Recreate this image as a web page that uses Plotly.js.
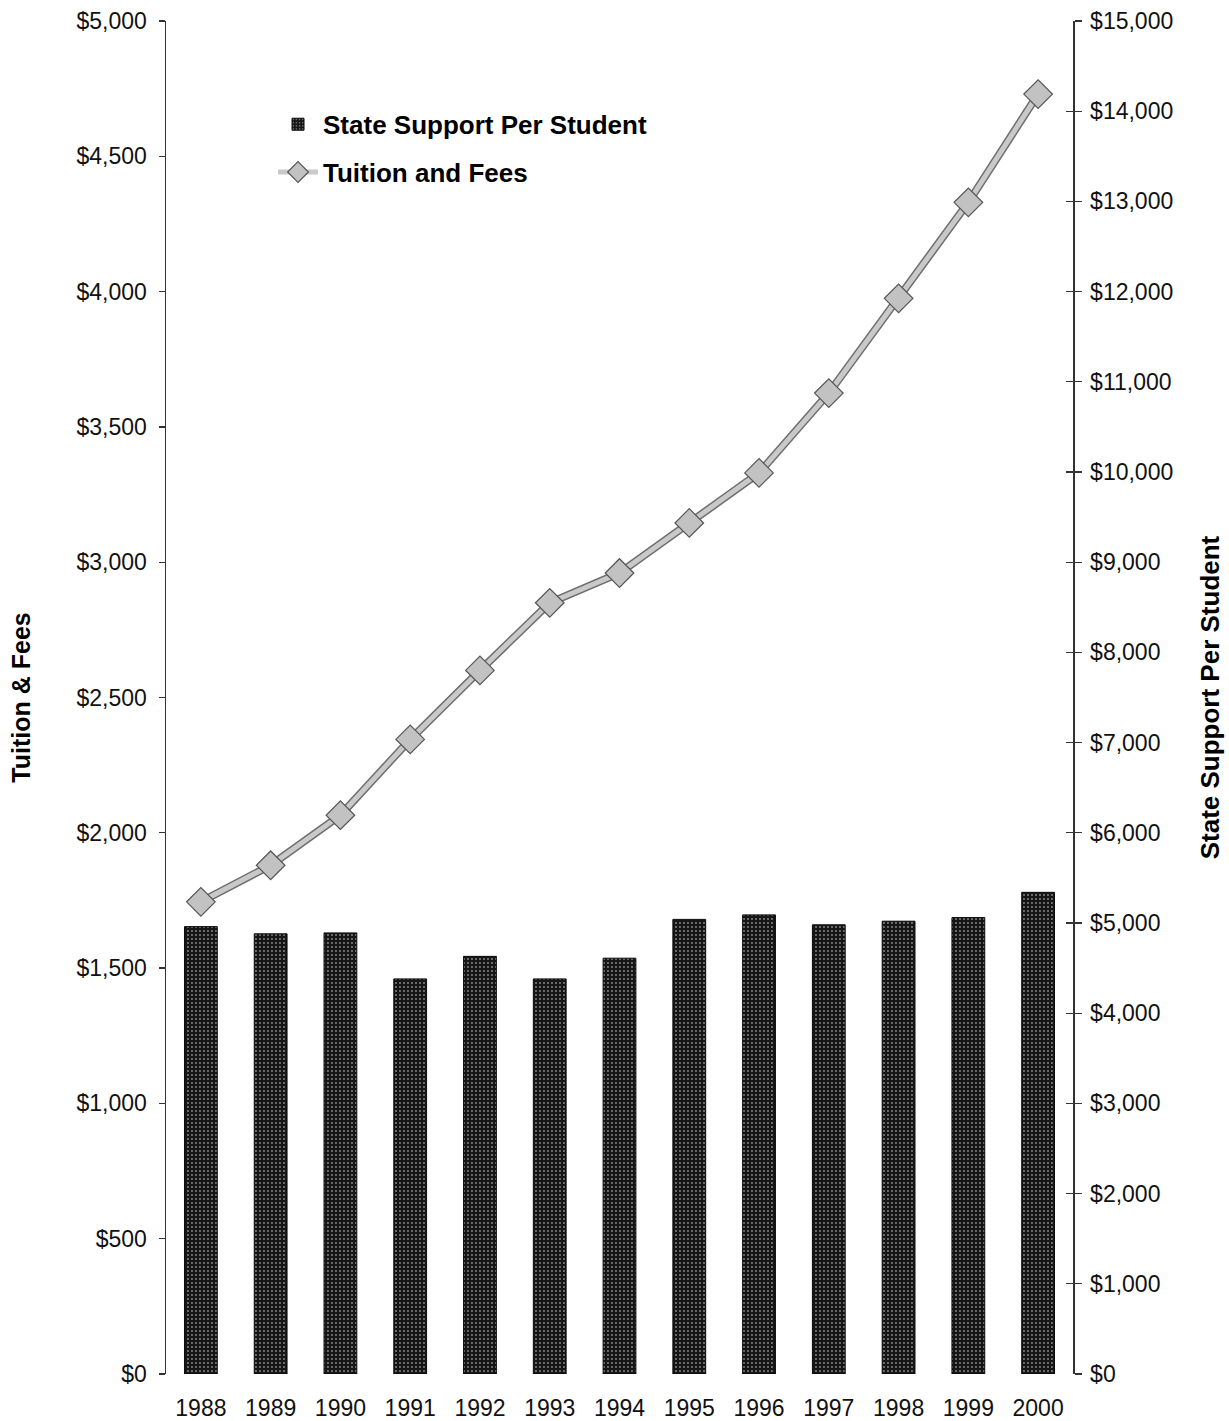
<!DOCTYPE html>
<html>
<head>
<meta charset="utf-8">
<script src="https://cdn.plot.ly/plotly-3.0.1.min.js"></script>
<style>
  html, body { margin: 0; padding: 0; background: #ffffff; }
  #chart { width: 1229px; height: 1421px; }
</style>
</head>
<body>
<div id="chart"></div>
<script>
// Fiscal years shown on the category axis
const years = ['1988', '1989', '1990', '1991', '1992', '1993', '1994',
               '1995', '1996', '1997', '1998', '1999', '2000'];

// State appropriations per student (right axis, dollars)
const stateSupport = [4960, 4880, 4890, 4380, 4630, 4380, 4610,
                      5040, 5090, 4980, 5020, 5060, 5340];

// Resident tuition and required fees (left axis, dollars)
const tuitionFees = [1745, 1880, 2065, 2345, 2600, 2850, 2960,
                     3145, 3330, 3625, 3975, 4330, 4730];

// Axis tick values
const leftTicks = [0, 500, 1000, 1500, 2000, 2500, 3000, 3500, 4000, 4500, 5000];
const rightTicks = [0, 1000, 2000, 3000, 4000, 5000, 6000, 7000,
                    8000, 9000, 10000, 11000, 12000, 13000, 14000, 15000];

const FONT = 'Arial, "Liberation Sans", sans-serif';
const money = v => '$' + v.toLocaleString('en-US');

const traces = [
  {
    type: 'bar',
    name: 'State Support Per Student',
    x: years,
    y: stateSupport,
    yaxis: 'y',
    width: 0.47,
    legendgroup: 'support',
    marker: {
      color: '#151515',
      line: { color: '#0a0a0a', width: 1 },
      pattern: { shape: '.', fgcolor: '#8a8a8a', bgcolor: '#161616', size: 4, solidity: 0.18 }
    },
    hoverinfo: 'x+y'
  },
  {
    // dark edge under the tuition line
    type: 'scatter',
    mode: 'lines',
    x: years,
    y: tuitionFees,
    yaxis: 'y2',
    showlegend: false,
    hoverinfo: 'skip',
    line: { color: '#6f6f6f', width: 8 }
  },
  {
    type: 'scatter',
    mode: 'lines+markers',
    name: 'Tuition and Fees',
    x: years,
    y: tuitionFees,
    yaxis: 'y2',
    legendgroup: 'tuition',
    line: { color: '#c9c9c9', width: 5 },
    marker: {
      symbol: 'diamond',
      size: 22,
      color: '#c2c2c2',
      line: { color: '#555555', width: 1.2 }
    },
    hoverinfo: 'x+y'
  },
  {
    // binds the inner tick axis of the state support scale; draws nothing
    type: 'scatter',
    mode: 'none',
    x: years,
    y: stateSupport,
    yaxis: 'y3',
    showlegend: false,
    hoverinfo: 'skip'
  }
];

const layout = {
  width: 1229,
  height: 1421,
  margin: { l: 166, r: 156, t: 21, b: 47 },
  paper_bgcolor: '#ffffff',
  plot_bgcolor: '#ffffff',
  font: { family: FONT, size: 23, color: '#111111' },
  showlegend: true,
  legend: {
    x: 0.118,
    y: 0.941,
    xanchor: 'left',
    yanchor: 'top',
    bgcolor: 'rgba(0,0,0,0)',
    font: { family: FONT, size: 26, color: '#000000', weight: 'bold' },
    traceorder: 'grouped',
    tracegroupgap: 11,
    itemwidth: 40
  },
  bargap: 0.53,
  xaxis: {
    type: 'category',
    categoryorder: 'array',
    categoryarray: years,
    range: [-0.5, 12.5],
    showline: false,
    showgrid: false,
    zeroline: false,
    ticks: '',
    tickfont: { family: FONT, size: 23, color: '#111111' },
    ticklabelstandoff: 18
  },
  // State support scale on the right
  yaxis: {
    side: 'right',
    range: [0, 15000],
    tickvals: rightTicks,
    ticktext: rightTicks.map(money),
    showgrid: false,
    zeroline: false,
    showline: true,
    linecolor: '#333333',
    linewidth: 1.5,
    ticks: 'outside',
    ticklen: 7,
    tickwidth: 1.3,
    tickcolor: '#333333',
    ticklabelstandoff: 4,
    tickfont: { family: FONT, size: 23, color: '#111111' },
    title: {
      text: 'State Support Per Student',
      font: { family: FONT, size: 26, color: '#000000', weight: 'bold' },
      standoff: 28
    }
  },
  // Tuition scale on the left
  yaxis2: {
    overlaying: 'y',
    side: 'left',
    anchor: 'x',
    range: [0, 5000],
    tickvals: leftTicks,
    ticktext: leftTicks.map(money),
    showgrid: false,
    zeroline: false,
    showline: true,
    linecolor: '#333333',
    linewidth: 1.5,
    ticks: 'outside',
    ticklen: 6,
    tickwidth: 1.3,
    tickcolor: '#333333',
    ticklabelstandoff: 7,
    tickfont: { family: FONT, size: 23, color: '#111111' },
    title: {
      text: 'Tuition & Fees',
      font: { family: FONT, size: 25, color: '#000000', weight: 'bold' },
      standoff: 39
    }
  },
  // inner half of the cross ticks on the right scale
  yaxis3: {
    overlaying: 'y',
    side: 'right',
    anchor: 'x',
    range: [0, 15000],
    tickvals: rightTicks,
    showticklabels: false,
    showgrid: false,
    zeroline: false,
    showline: false,
    ticks: 'inside',
    ticklen: 7,
    tickwidth: 1.3,
    tickcolor: '#333333'
  }
};

Plotly.newPlot('chart', traces, layout, { displayModeBar: false, staticPlot: true });
</script>
</body>
</html>
